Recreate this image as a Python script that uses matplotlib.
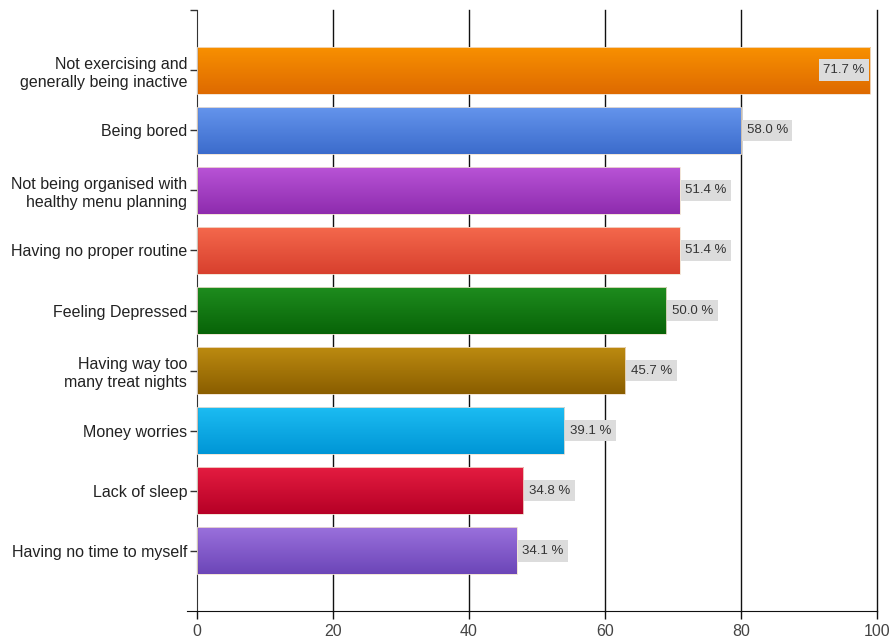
import numpy as np
import matplotlib
matplotlib.use("Agg")
import matplotlib.pyplot as plt
from matplotlib.colors import LinearSegmentedColormap

plt.rcParams['font.family'] = ['Liberation Sans', 'DejaVu Sans']

# data (axis = responses, label = share of 138)
categories = ["Not exercising and\ngenerally being inactive",
              "Being bored",
              "Not being organised with\nhealthy menu planning",
              "Having no proper routine",
              "Feeling Depressed",
              "Having way too\nmany treat nights",
              "Money worries",
              "Lack of sleep",
              "Having no time to myself"]
counts = [99, 80, 71, 71, 69, 63, 54, 48, 47]
pct_labels = ["71.7 %", "58.0 %", "51.4 %", "51.4 %", "50.0 %",
              "45.7 %", "39.1 %", "34.8 %", "34.1 %"]
x_ticks = [0, 20, 40, 60, 80, 100]

# (top colour, bottom colour) for each bar gradient
grads = [("#F89000", "#DE6A00"),
         ("#6494EC", "#3C6CCC"),
         ("#B853D6", "#8E2CAE"),
         ("#F4684C", "#D8402E"),
         ("#1E8C1E", "#086408"),
         ("#BC8A10", "#8A5E00"),
         ("#1CBCF2", "#0096D6"),
         ("#E41C40", "#B60026"),
         ("#9A70DC", "#6C46B8")]

fig = plt.figure(figsize=(8.93, 6.37), dpi=100)
ax = fig.add_axes([197/893, 26/637, 680/893, 601/637])

ypos = np.arange(len(categories))
h = 0.78
for y, v, (c1, c2) in zip(ypos, counts, grads):
    cmap = LinearSegmentedColormap.from_list("g", [c1, c2])
    grad = np.linspace(0, 1, 64).reshape(-1, 1)
    ax.imshow(grad, cmap=cmap, aspect='auto', zorder=2,
              extent=(0, v, y + h/2, y - h/2), interpolation='bilinear')
    ax.add_patch(plt.Rectangle((0, y - h/2), v, h, fill=False,
                               edgecolor='#f0e0d0', lw=0.6, zorder=3))

for i, (y, v, lab) in enumerate(zip(ypos, counts, pct_labels)):
    inside = v > 95
    ax.annotate(lab, (v, y), xytext=(-4 if inside else 4, 0),
                textcoords='offset points', ha='right' if inside else 'left',
                va='center', fontsize=9.5, color='#333333', zorder=5,
                bbox=dict(boxstyle='square,pad=0.35', fc='#DCDCDC', ec='none'))

ax.set_xlim(0, 100)
ax.set_ylim(9, -1)
ax.set_xticks(x_ticks)
ax.set_xticklabels([str(t) for t in x_ticks], fontsize=11.5, color='#444444')
ax.set_yticks(ypos)
ax.set_yticklabels(categories, fontsize=11.5, color='#222222', linespacing=1.25)
ax.set_yticks([-1], minor=True)
ax.tick_params(axis='y', length=5, width=1, color='#333333', pad=2)
ax.tick_params(axis='y', which='minor', length=5, width=1, color='#333333')
ax.tick_params(axis='x', length=6, width=1, color='#111111', pad=3)

for t in x_ticks[1:]:
    ax.axvline(t, color='#111111', lw=1, zorder=1, clip_on=False)

for s in ['top', 'right']:
    ax.spines[s].set_visible(False)
ax.spines['left'].set_color('#333333')
ax.spines['bottom'].set_color('#111111')
ax.spines['bottom'].set_bounds(-1.5, 100)
ax.spines['bottom'].set_clip_on(False)

fig.savefig("out.png", dpi=100)
